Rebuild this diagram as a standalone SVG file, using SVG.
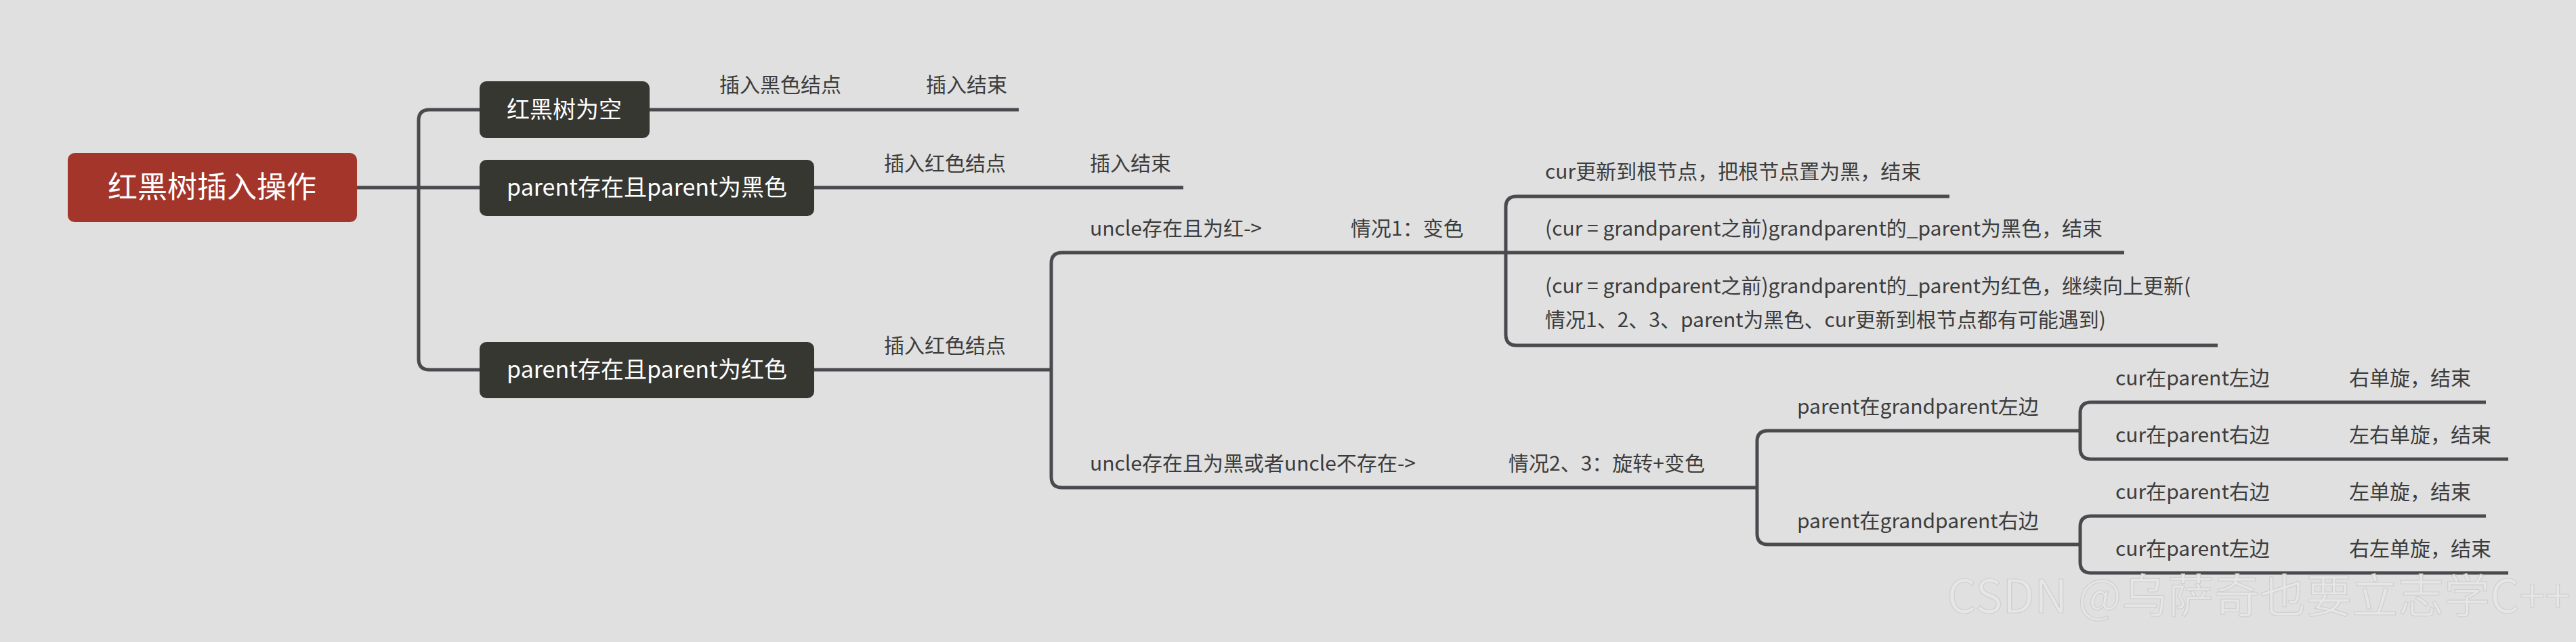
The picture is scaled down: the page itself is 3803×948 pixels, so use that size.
<svg xmlns="http://www.w3.org/2000/svg" width="3803" height="948" viewBox="0 0 3803 948">
<style>
.c{fill:none;stroke:#4a4a4e;stroke-width:5}
.n{fill:#373732}
.t{font-family:"Noto Sans CJK SC","Noto Sans",sans-serif;font-size:30px;fill:#3c3c3c}
.w{font-family:"Noto Sans CJK SC","Noto Sans",sans-serif;font-size:34px;fill:#fff;text-anchor:middle}
</style>
<rect width="3803" height="948" fill="#e0e0e0"/>
<g id="connectors">
<path class="c" d="M527 277H708M708 162H634Q618 162 618 178V530Q618 546 634 546H708"/>
<path class="c" d="M959 162H1504M1202 277H1747M1202 546H1552"/>
<path class="c" d="M3136 373H1568Q1552 373 1552 389V704Q1552 720 1568 720H2594"/>
<path class="c" d="M2878 290H2239Q2223 290 2223 306V494Q2223 510 2239 510H3274"/>
<path class="c" d="M3071 636H2610Q2594 636 2594 652V788Q2594 804 2610 804H3071"/>
<path class="c" d="M3670 594H3087Q3071 594 3071 610V662Q3071 678 3087 678H3703"/>
<path class="c" d="M3670 762H3087Q3071 762 3071 778V830Q3071 846 3087 846H3703"/>
</g>
<g id="root"><rect x="100" y="226" width="427" height="102" rx="10" fill="#a4352a"/><text class="w" x="313" y="292" style="font-size:44px">红黑树插入操作</text></g>
<g id="n1"><rect class="n" x="708" y="120" width="251" height="84" rx="10"/><text class="w" x="833" y="174">红黑树为空</text></g>
<g id="n2"><rect class="n" x="708" y="236" width="494" height="83" rx="10"/><text class="w" x="955" y="289">parent存在且parent为黑色</text></g>
<g id="n3"><rect class="n" x="708" y="505" width="494" height="83" rx="10"/><text class="w" x="955" y="558">parent存在且parent为红色</text></g>
<g id="labels">
<text class="t" x="1062" y="136">插入黑色结点</text>
<text class="t" x="1367" y="136">插入结束</text>
<text class="t" x="1305" y="252">插入红色结点</text>
<text class="t" x="1609" y="252">插入结束</text>
<text class="t" x="1305" y="521">插入红色结点</text>
<text class="t" x="1609" y="348">uncle存在且为红-&gt;</text>
<text class="t" x="1994" y="348">情况1：变色</text>
<text class="t" x="2281" y="264">cur更新到根节点，把根节点置为黑，结束</text>
<text class="t" x="2281" y="348">(cur = grandparent之前)grandparent的_parent为黑色，结束</text>
<text class="t" x="2281" y="433">(cur = grandparent之前)grandparent的_parent为红色，继续向上更新(</text>
<text class="t" x="2281" y="483">情况1、2、3、parent为黑色、cur更新到根节点都有可能遇到)</text>
<text class="t" x="1609" y="695">uncle存在且为黑或者uncle不存在-&gt;</text>
<text class="t" x="2227" y="695">情况2、3：旋转+变色</text>
<text class="t" x="2653" y="611">parent在grandparent左边</text>
<text class="t" x="2653" y="780">parent在grandparent右边</text>
<text class="t" x="3123" y="569">cur在parent左边</text>
<text class="t" x="3468" y="569">右单旋，结束</text>
<text class="t" x="3123" y="653">cur在parent右边</text>
<text class="t" x="3468" y="653">左右单旋，结束</text>
<text class="t" x="3123" y="737">cur在parent右边</text>
<text class="t" x="3468" y="737">左单旋，结束</text>
<text class="t" x="3123" y="821">cur在parent左边</text>
<text class="t" x="3468" y="821">右左单旋，结束</text>
</g>
<text x="3795" y="905" text-anchor="end" font-family="Noto Sans CJK SC,sans-serif" font-size="68" fill="#e6e6e6" stroke="#cfcfcf" stroke-width="1.2">CSDN @乌萨奇也要立志学C++</text>
</svg>
